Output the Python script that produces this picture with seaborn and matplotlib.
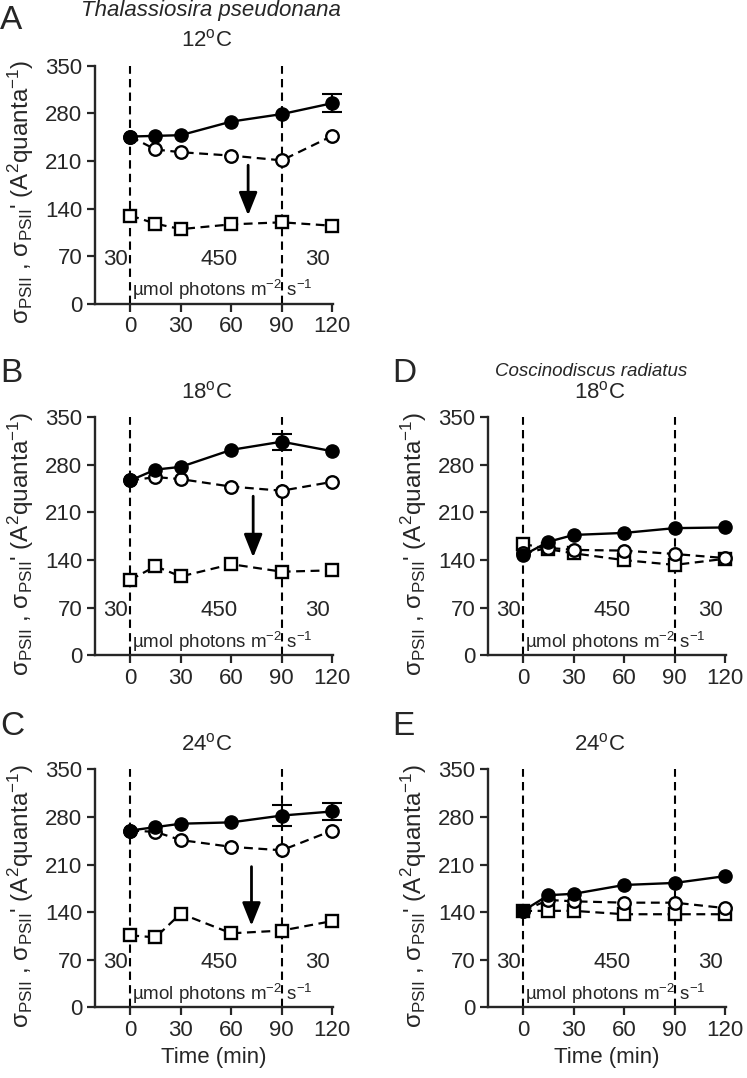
import matplotlib
matplotlib.use("Agg")
from matplotlib import pyplot as plt
import seaborn as sns
import pandas as pd

sns.set_style("ticks")
plt.rcParams['font.family'] = ['Liberation Sans', 'DejaVu Sans']
plt.rcParams['mathtext.fontset'] = 'custom'
plt.rcParams['mathtext.rm'] = 'Liberation Sans'
plt.rcParams['mathtext.it'] = 'Liberation Sans:italic'

times = [0, 15, 30, 60, 90, 120]
xticks = [0, 30, 60, 90, 120]
yticks = [0, 70, 140, 210, 280, 350]

# Thalassiosira pseudonana
tp12_filled = [246, 247, 248, 268, 279, 295]
tp12_open = [246, 227, 223, 218, 211, 247]
tp12_square = [130, 118, 110, 117, 120, 115]
tp12_err = [0, 0, 0, 0, 0, 13]

tp18_filled = [257, 273, 277, 302, 314, 300]
tp18_open = [257, 262, 259, 248, 242, 255]
tp18_square = [111, 131, 116, 134, 123, 125]
tp18_err = [0, 0, 0, 0, 12, 0]

tp24_filled = [260, 265, 270, 272, 282, 288]
tp24_open = [260, 258, 246, 236, 231, 260]
tp24_square = [106, 103, 138, 109, 113, 127]
tp24_err = [0, 0, 0, 0, 16, 12]

# Coscinodiscus radiatus
cr18_filled = [147, 167, 177, 180, 187, 188]
cr18_open = [150, 158, 155, 154, 149, 143]
cr18_square = [164, 156, 150, 140, 133, 142]
cr18_err = [0, 0, 0, 0, 0, 0]

cr24_filled = [142, 165, 167, 180, 183, 193]
cr24_open = [142, 158, 156, 154, 154, 146]
cr24_square = [142, 142, 142, 137, 137, 137]
cr24_err = [0, 0, 0, 0, 0, 0]

# arrows (time, start, end) for T. pseudonana panels
arrows = {'A': (70, 208, 126), 'B': (73, 238, 140), 'C': (72, 211, 116)}

ylab = (u"\u03c3$_{\\mathrm{PSII}}$ , \u03c3$_{\\mathrm{PSII}}$' "
        "(A$^{2}$quanta$^{-1}$)")

fig = plt.figure(figsize=(7.47, 10.78), dpi=100)

left_x, right_x, w, h = 0.127, 0.653, 0.319, 0.221
rects = {
    'A': [left_x, 0.718, w, h],
    'B': [left_x, 0.392, w, h],
    'C': [left_x, 0.0654, w, h],
    'D': [right_x, 0.392, w, h],
    'E': [right_x, 0.0654, w, h],
}

panels = {
    'A': (tp12_filled, tp12_open, tp12_square, tp12_err, '12'),
    'B': (tp18_filled, tp18_open, tp18_square, tp18_err, '18'),
    'C': (tp24_filled, tp24_open, tp24_square, tp24_err, '24'),
    'D': (cr18_filled, cr18_open, cr18_square, cr18_err, '18'),
    'E': (cr24_filled, cr24_open, cr24_square, cr24_err, '24'),
}

dash = (0, (4, 2.5))

for key, (filled, opn, sq, err, temp) in panels.items():
    ax = fig.add_axes(rects[key])
    for t in [0, 90]:
        ax.axvline(t, color='k', lw=1.5, linestyle=(0, (4, 2.5)), zorder=1)

    df = pd.DataFrame({'t': times, 'filled': filled, 'open': opn, 'sq': sq})
    sns.lineplot(data=df, x='t', y='sq', ax=ax, color='k', lw=1.6,
                 linestyle=dash, marker='s', markersize=8.5,
                 markerfacecolor='white', markeredgecolor='k',
                 markeredgewidth=1.7, errorbar=None, clip_on=False, zorder=3)
    sns.lineplot(data=df, x='t', y='open', ax=ax, color='k', lw=1.6,
                 linestyle=dash, marker='o', markersize=9,
                 markerfacecolor='white', markeredgecolor='k',
                 markeredgewidth=1.7, errorbar=None, clip_on=False, zorder=4)
    et = [t for t, e in zip(times, err) if e > 0]
    ev = [v for v, e in zip(filled, err) if e > 0]
    ee = [e for e in err if e > 0]
    if ee:
        ax.errorbar(et, ev, yerr=ee, fmt='none', ecolor='k', elinewidth=1.5,
                    capsize=7, capthick=1.5, zorder=4.5, clip_on=False)
    sns.lineplot(data=df, x='t', y='filled', ax=ax, color='k', lw=1.7,
                 marker='o', markersize=9.5, markerfacecolor='k',
                 markeredgecolor='k', markeredgewidth=1,
                 errorbar=None, clip_on=False, zorder=5)

    if key in arrows:
        ta, y0, y1 = arrows[key]
        ax.annotate('', xy=(ta, y1), xytext=(ta, y0),
                    arrowprops=dict(arrowstyle='-|>,head_length=0.7,head_width=0.28',
                                    color='k', lw=2, mutation_scale=20))

    ax.text(-8.5, 66, '30', fontsize=16, ha='center', va='center')
    ax.text(53, 66, '450', fontsize=16, ha='center', va='center')
    ax.text(111, 66, '30', fontsize=16, ha='center', va='center')
    ax.text(0.8, 20, u"\u00b5mol photons m$^{-2}$ s$^{-1}$", fontsize=13.5,
            ha='left', va='center')

    ax.set_xlim(-21, 120.5)
    ax.set_ylim(0, 350)
    ax.set_xticks(xticks)
    ax.set_yticks(yticks)
    ax.tick_params(labelsize=16, width=1.6, length=6, direction='out', pad=3)
    for s in ['left', 'bottom']:
        ax.spines[s].set_linewidth(1.7)
    sns.despine(ax=ax)

    ax.set_ylabel(ylab, fontsize=17.5)
    ax.yaxis.set_label_coords(-0.245, 0.47)
    if key in ['C', 'E']:
        ax.set_xlabel('Time (min)', fontsize=16)
        ax.xaxis.set_label_coords(0.5, -0.165)
    else:
        ax.set_xlabel('')

    ax.text(0.47, 1.105, '%s$^{\\mathrm{o}}$C' % temp, transform=ax.transAxes,
            fontsize=16, ha='center', va='center')

    if key == 'A':
        ax.text(0.485, 1.232, 'Thalassiosira pseudonana', transform=ax.transAxes,
                fontsize=16, style='italic', ha='center', va='center')
    if key == 'D':
        ax.text(0.433, 1.19, 'Coscinodiscus radiatus', transform=ax.transAxes,
                fontsize=13.5, style='italic', ha='center', va='center')

letters = {'A': (0.0, 0.995), 'B': (0.0, 0.668), 'C': (0.0, 0.340),
           'D': (0.525, 0.668), 'E': (0.525, 0.340)}
for k, (lx, ly) in letters.items():
    fig.text(lx, ly, k, fontsize=24, ha='left', va='top')

fig.savefig('out.png', dpi=100)
